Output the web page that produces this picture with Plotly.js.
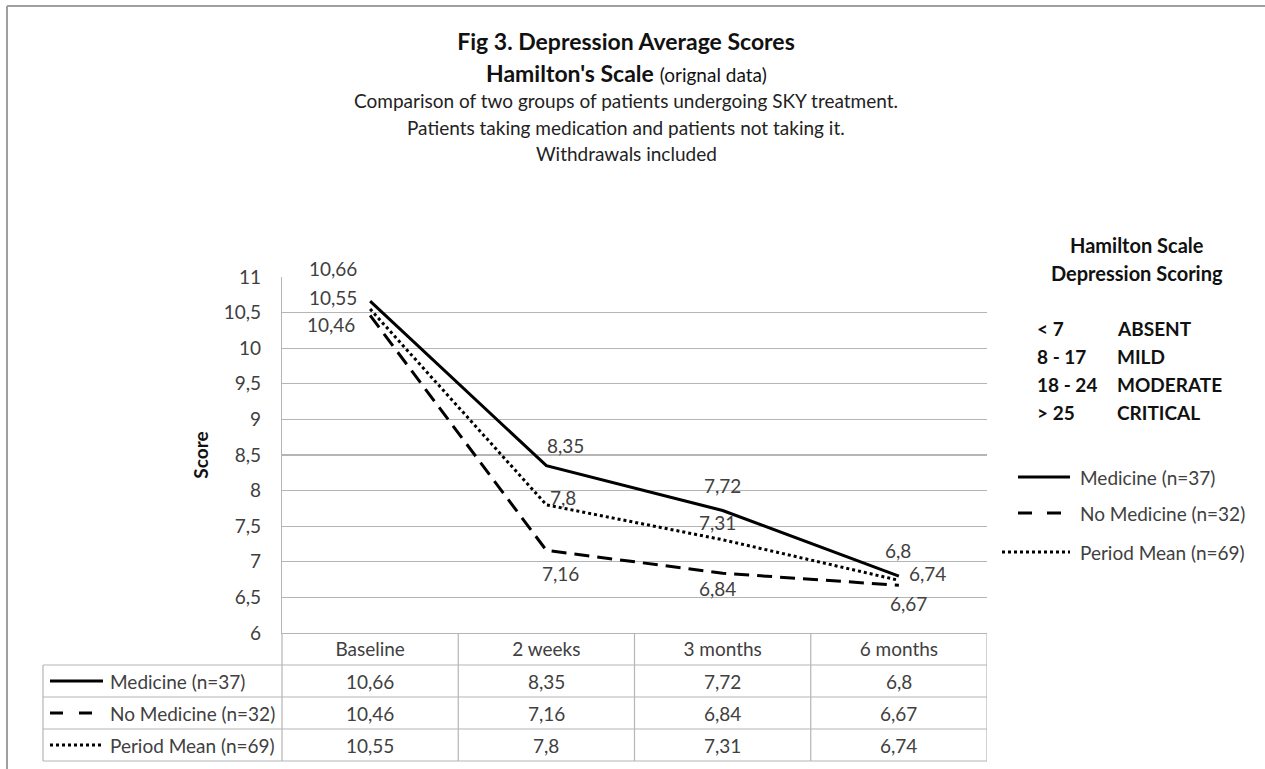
<!DOCTYPE html>
<html>
<head>
<meta charset="utf-8">
<script src="https://cdn.plot.ly/plotly-3.0.1.min.js"></script>
<style>html,body{margin:0;padding:0;background:#fff;}#chart{width:1265px;height:769px;}</style>
</head>
<body>
<div id="chart"></div>
<script>
// ---- data ----
const categories = ['Baseline', '2 weeks', '3 months', '6 months'];
const medicine = [10.66, 8.35, 7.72, 6.8];
const noMedicine = [10.46, 7.16, 6.84, 6.67];
const periodMean = [10.55, 7.8, 7.31, 6.74];
const seriesNames = ['Medicine (n=37)', 'No Medicine (n=32)', 'Period Mean (n=69)'];
const scoreRanges = ['< 7', '8 - 17', '18 - 24', '> 25'];
const scoreLevels = ['ABSENT', 'MILD', 'MODERATE', 'CRITICAL'];

// ---- layout geometry (pixels of the 1265x769 page) ----
const W = 1265, H = 769;
const PL = 282, PR = 987, PT = 277, PB = 633;
const px = x => (x - PL) / (PR - PL);
const py = y => (PB - y) / (PB - PT);
const FONT = 'Lato, "Open Sans", sans-serif';
const TXT = '#404040';
const GRID = '#b5b5b5';
const FS = 19;
const fmt = v => String(v).replace('.', ',');

const series = [
  {vals: medicine,   name: seriesNames[0], dash: 'solid',      sdash: 'solid',
   off: [[-37, 33], [19, 20], [0, 25], [-1, 26]]},
  {vals: noMedicine, name: seriesNames[1], dash: '15px,8px',   sdash: '13px,16px',
   off: [[-39, -9], [14, -23], [-5, -15], [10, -18]]},
  {vals: periodMean, name: seriesNames[2], dash: 'dot',        sdash: 'dot',
   off: [[-37, 12], [17, 7], [-5, 17], [29, 7]]}
];

const traces = series.map(s => ({
  type: 'scatter', mode: 'lines', x: categories, y: s.vals, name: s.name,
  line: {color: '#000', width: 3, dash: s.dash}, showlegend: false,
  cliponaxis: false, hoverinfo: 'x+y+name'
}));

const annotations = [];
const shapes = [];
const note = (x, y, text, size, color, xanchor) => annotations.push({
  xref: 'paper', yref: 'paper', x: px(x), y: py(y), xanchor: xanchor || 'center', yanchor: 'middle',
  showarrow: false, text: text, font: {family: FONT, size: size, color: color}});

// title lines 2-5
note(626, 73, "<b>Hamilton's Scale</b> <span style='font-size:19px'>(orignal data)</span>", 23, '#111');
['Comparison of two groups of patients undergoing SKY treatment.',
 'Patients taking medication and patients not taking it.',
 'Withdrawals included'].forEach((t, i) => note(626, 101 + i * 26, t, 19, '#222'));

// data labels
series.forEach(s => {
  s.vals.forEach((v, i) => {
    annotations.push({xref: 'x', yref: 'y', x: categories[i], y: v, xshift: s.off[i][0], yshift: s.off[i][1],
      xanchor: 'center', yanchor: 'middle',
      showarrow: false, text: fmt(v), font: {family: FONT, size: FS, color: TXT}});
  });
});

// data table
const rowCenters = [681, 713, 745];
series.forEach((s, r) => {
  s.vals.forEach((v, i) => {
    annotations.push({xref: 'x', yref: 'paper', x: categories[i], y: py(rowCenters[r]), xanchor: 'center', yanchor: 'middle',
      showarrow: false, text: fmt(v), font: {family: FONT, size: FS, color: TXT}});
  });
  note(108, rowCenters[r], s.name, FS, TXT, 'left');
  shapes.push({type: 'line', xref: 'paper', yref: 'paper', x0: px(50), x1: px(103), y0: py(rowCenters[r]), y1: py(rowCenters[r]),
    line: {color: '#000', width: 3, dash: s.sdash}});
});
// table grid
[665, 697, 729, 761].forEach(y => shapes.push({type: 'line', xref: 'paper', yref: 'paper', x0: px(43), x1: 1, y0: py(y), y1: py(y),
  line: {color: GRID, width: 1.2}}));
shapes.push({type: 'line', xref: 'paper', yref: 'paper', x0: px(43), x1: px(43), y0: py(665), y1: py(761), line: {color: GRID, width: 1.2}});
shapes.push({type: 'line', xref: 'paper', yref: 'paper', x0: 0, x1: 0, y0: 0, y1: py(761), line: {color: GRID, width: 1.2}});
[0.5, 1.5, 2.5, 3.5].forEach(x => shapes.push({type: 'line', xref: 'x', yref: 'paper', x0: x, x1: x, y0: 0, y1: py(761),
  line: {color: GRID, width: 1.2}}));

// outer frame (top, left)
shapes.push({type: 'line', xref: 'paper', yref: 'paper', x0: px(7), x1: px(W), y0: py(6), y1: py(6), line: {color: '#a0a0a0', width: 2}});
shapes.push({type: 'line', xref: 'paper', yref: 'paper', x0: px(7), x1: px(7), y0: py(6), y1: py(H), line: {color: '#a0a0a0', width: 2}});

// scoring box
note(1137, 245, '<b>Hamilton Scale</b>', 20, '#111');
note(1137, 273, '<b>Depression Scoring</b>', 20, '#111');
scoreRanges.forEach((t, i) => {
  note(1035, 328 + i * 28, '<b>' + t + '</b>', 19, '#111', 'left');
  note(1115, 328 + i * 28, '<b>' + scoreLevels[i] + '</b>', 19, '#111', 'left');
});

// right legend (drawn by hand to match Excel's wide samples)
const legY = [477, 513, 552];
const legX0 = [1018, 1018, 1002];
series.forEach((s, r) => {
  shapes.push({type: 'line', xref: 'paper', yref: 'paper', x0: px(legX0[r]), x1: px(r === 1 ? 1062 : 1070), y0: py(legY[r]), y1: py(legY[r]),
    line: {color: '#000', width: 3, dash: r === 1 ? '14px,15px' : s.sdash}});
  note(1078, legY[r], s.name, FS, TXT, 'left');
});

const layout = {
  width: W, height: H,
  margin: {l: PL, r: W - PR, t: PT, b: H - PB, pad: 0},
  paper_bgcolor: '#fff', plot_bgcolor: '#fff',
  separators: ', ',
  font: {family: FONT, color: TXT},
  title: {text: '<b>Fig 3. Depression Average Scores</b>', x: px(626), xanchor: 'center', y: 1 - 42 / H, yanchor: 'middle',
    xref: 'paper', font: {family: FONT, size: 23, color: '#111'}},
  showlegend: false,
  xaxis: {type: 'category', categoryorder: 'array', categoryarray: categories, range: [-0.5, 3.5],
    showgrid: false, zeroline: false, showline: true, linecolor: GRID, linewidth: 1.2,
    ticks: '', ticklabelstandoff: -1, tickfont: {family: FONT, size: FS, color: TXT}},
  yaxis: {range: [6, 11], dtick: 0.5, tick0: 6, showgrid: true, gridcolor: GRID, gridwidth: 1.2, zeroline: false,
    showline: true, linecolor: GRID, linewidth: 1.2, ticks: '', ticklabelstandoff: 16,
    tickfont: {family: FONT, size: FS, color: TXT},
    title: {text: '<b>Score</b>', standoff: 10, font: {family: FONT, size: 19, color: '#111'}}},
  annotations: annotations,
  shapes: shapes
};

Plotly.newPlot('chart', traces, layout, {displayModeBar: false, staticPlot: true});
</script>
</body>
</html>
